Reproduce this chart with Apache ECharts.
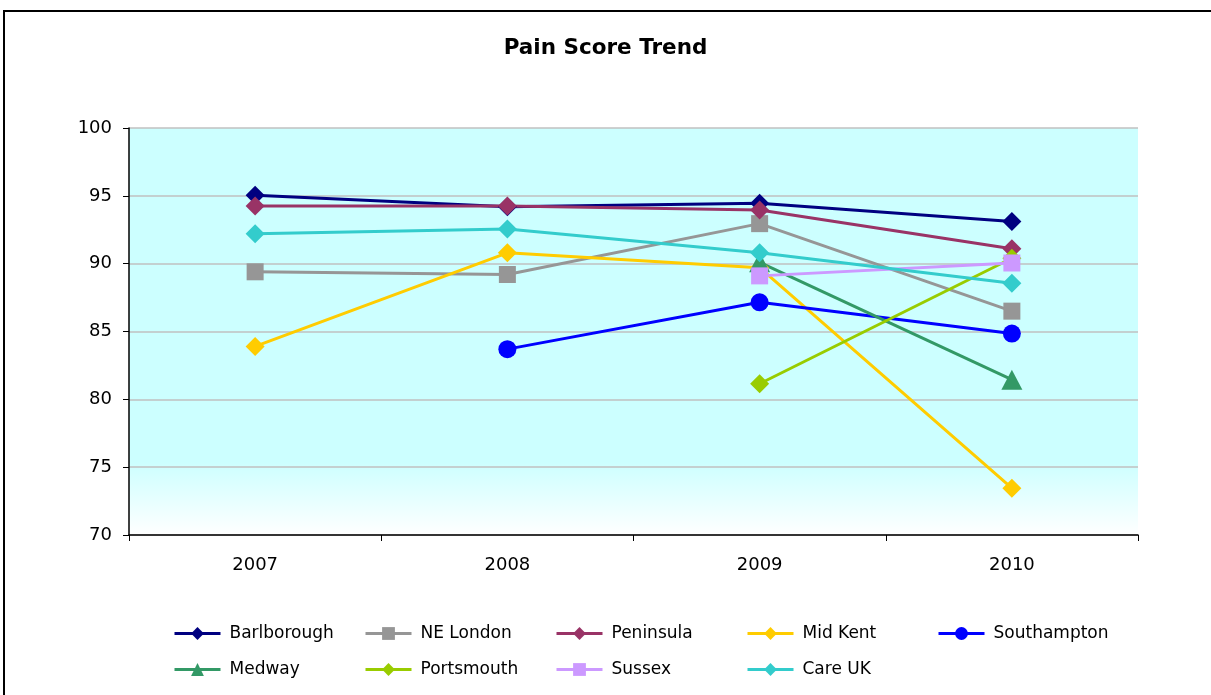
<!DOCTYPE html>
<html>
<head>
<meta charset="utf-8">
<script src="https://cdn.jsdelivr.net/npm/echarts@6/dist/echarts.min.js"></script>
<style>
  html, body { margin: 0; padding: 0; background: #fff; }
  #chart { width: 1211px; height: 695px; }
</style>
</head>
<body>
<div id="chart"></div>
<script>
const years = ['2007', '2008', '2009', '2010'];

const barlborough = [95.05, 94.2, 94.45, 93.1];
const neLondon = [89.4, 89.2, 92.95, 86.5];
const peninsula = [94.25, 94.25, 93.95, 91.1];
const midKent = [83.9, 90.8, 89.7, 73.45];
const southampton = [null, 83.7, 87.15, 84.85];
const medway = [null, null, 90.1, 81.45];
const portsmouth = [null, null, 81.15, 90.4];
const sussex = [null, null, 89.1, 90.05];
const careUK = [92.2, 92.55, 90.8, 88.55];

const yTicks = { min: 70, max: 100, interval: 5 };

const seriesDefs = [
  { name: 'Barlborough', data: barlborough, color: '#000080', symbol: 'diamond', size: 19 },
  { name: 'NE London', data: neLondon, color: '#969696', symbol: 'rect', size: 17 },
  { name: 'Peninsula', data: peninsula, color: '#993366', symbol: 'diamond', size: 19 },
  { name: 'Mid Kent', data: midKent, color: '#FFCC00', symbol: 'diamond', size: 19 },
  { name: 'Southampton', data: southampton, color: '#0000FF', symbol: 'circle', size: 18 },
  { name: 'Medway', data: medway, color: '#339966', symbol: 'triangle', size: [21, 20] },
  { name: 'Portsmouth', data: portsmouth, color: '#99CC00', symbol: 'diamond', size: 19 },
  { name: 'Sussex', data: sussex, color: '#CC99FF', symbol: 'rect', size: 17 },
  { name: 'Care UK', data: careUK, color: '#33CCCC', symbol: 'diamond', size: 19 }
];

const font = 'DejaVu Sans, sans-serif';

// one legend per entry so the columns line up like the original
const legends = seriesDefs.map((s, i) => ({
  left: 168 + (i % 5) * 191,
  top: i < 5 ? 620 : 656,
  itemWidth: 46,
  itemHeight: 16,
  itemGap: 0,
  lineStyle: { width: 3 },
  textStyle: { fontFamily: font, fontSize: 17, color: '#000', padding: [0, 0, 0, 4] },
  data: [s.name]
}));

const option = {
  animation: false,
  title: {
    text: 'Pain Score Trend',
    left: 'center',
    top: 32,
    textStyle: { fontFamily: font, fontSize: 21.5, fontWeight: 'bold', color: '#000' }
  },
  graphic: [
    {
      type: 'rect',
      shape: { x: 4, y: 11, width: 1400, height: 900 },
      style: { fill: 'none', stroke: '#000', lineWidth: 2 },
      silent: true
    }
  ],
  grid: {
    left: 129,
    right: 73,
    top: 128,
    bottom: 160,
    show: true,
    borderWidth: 0,
    backgroundColor: {
      type: 'linear', x: 0, y: 0, x2: 0, y2: 1,
      colorStops: [
        { offset: 0, color: '#ccffff' },
        { offset: 0.82, color: '#ccffff' },
        { offset: 1, color: '#ffffff' }
      ]
    }
  },
  legend: legends,
  xAxis: {
    type: 'category',
    data: years,
    boundaryGap: true,
    axisLine: { lineStyle: { color: '#000', width: 1.5 } },
    axisTick: { show: true, length: 6, lineStyle: { color: '#000' } },
    axisLabel: { fontFamily: font, fontSize: 18, color: '#000', margin: 21 },
    splitLine: { show: false }
  },
  yAxis: {
    type: 'value',
    min: yTicks.min,
    max: yTicks.max,
    interval: yTicks.interval,
    axisLine: { show: true, lineStyle: { color: '#000', width: 1.5 } },
    axisTick: { show: true, length: 6, lineStyle: { color: '#000' } },
    axisLabel: { fontFamily: font, fontSize: 18, color: '#000', margin: 17 },
    splitLine: { show: true, lineStyle: { color: '#c0c0c0', width: 1.5 } }
  },
  series: seriesDefs.map(s => ({
    name: s.name,
    type: 'line',
    data: s.data,
    symbol: s.symbol,
    symbolSize: s.size,
    showAllSymbol: true,
    connectNulls: false,
    color: s.color,
    lineStyle: { color: s.color, width: 3 },
    itemStyle: { color: s.color }
  }))
};

const chart = echarts.init(document.getElementById('chart'));
chart.setOption(option);
</script>
</body>
</html>
